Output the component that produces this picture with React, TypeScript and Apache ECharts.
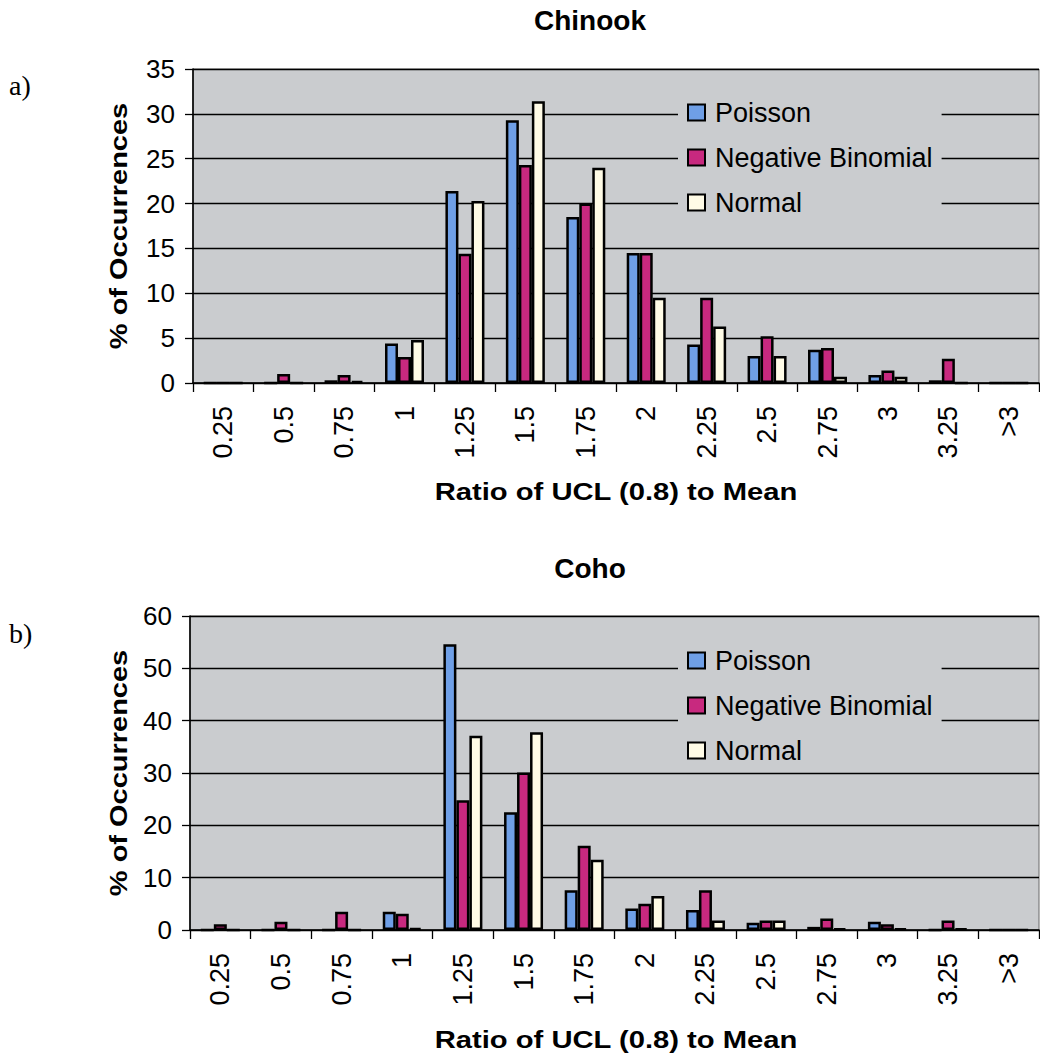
import React, { useEffect, useRef } from "react";
import * as echarts from "echarts";

// Ratio classes on the x axis (shared by both panels)
const categories = ["0.25", "0.5", "0.75", "1", "1.25", "1.5", "1.75", "2", "2.25", "2.5", "2.75", "3", "3.25", ">3"];

const seriesNames = ["Poisson", "Negative Binomial", "Normal"];

// Panel a) Chinook, % of occurrences
const chinookPoisson = [0, 0, 0.3, 4.4, 21.4, 29.3, 18.5, 14.5, 4.3, 3.0, 3.7, 0.9, 0.3, 0];
const chinookNegBin = [0, 1.0, 0.9, 2.9, 14.4, 24.3, 20.0, 14.5, 9.5, 5.2, 3.9, 1.4, 2.7, 0];
const chinookNormal = [0, 0, 0.25, 4.8, 20.3, 31.4, 24.0, 9.5, 6.3, 3.0, 0.7, 0.7, 0, 0];

// Panel b) Coho, % of occurrences
const cohoPoisson = [0, 0, 0, 3.5, 54.6, 22.5, 7.6, 4.1, 3.8, 1.4, 0.6, 1.6, 0, 0];
const cohoNegBin = [1.1, 1.6, 3.5, 3.1, 24.8, 30.1, 16.1, 5.0, 7.6, 1.8, 2.2, 1.1, 1.8, 0];
const cohoNormal = [0, 0, 0, 0.4, 37.1, 37.8, 13.4, 6.5, 1.8, 1.8, 0.3, 0.3, 0.3, 0];

// y axis ticks per panel
const chinookTicks = { max: 35, interval: 5 };
const cohoTicks = { max: 60, interval: 10 };

const panelTitles = ["Chinook", "Coho"];
const panelLetters = ["a)", "b)"];
const xAxisTitle = "Ratio of UCL (0.8) to Mean";
const yAxisTitle = "% of Occurrences";

const SANS = "'Liberation Sans', Arial, Helvetica, sans-serif";
const SERIF = "'Liberation Serif', 'Times New Roman', serif";
const PLOT_BG = "#cacccf";
const COLORS = ["#6f9fe6", "#c8297f", "#fffbe6"];

function buildOption() {
  const panels = [
    { data: [chinookPoisson, chinookNegBin, chinookNormal], ticks: chinookTicks, grid: { left: 193, top: 69, width: 846, height: 314 } },
    { data: [cohoPoisson, cohoNegBin, cohoNormal], ticks: cohoTicks, grid: { left: 190, top: 616, width: 849, height: 314 } },
  ];

  const grids = panels.map((p) => ({
    ...p.grid,
    show: true,
    backgroundColor: PLOT_BG,
    borderColor: "#6b6b6b",
    borderWidth: 1,
    containLabel: false,
  }));

  const xAxes = panels.map((_, i) => ({
    type: "category",
    gridIndex: i,
    data: categories,
    boundaryGap: true,
    axisLine: { show: true, onZero: false, lineStyle: { color: "#000", width: 1.6 } },
    axisTick: { show: true, length: 9, interval: 0, alignWithLabel: false, lineStyle: { color: "#000", width: 1.3 } },
    axisLabel: { interval: 0, rotate: 90, margin: 23, fontSize: 27, color: "#000", fontFamily: SANS },
    splitLine: { show: false },
  }));

  const yAxes = panels.map((p, i) => ({
    type: "value",
    gridIndex: i,
    min: 0,
    max: p.ticks.max,
    interval: p.ticks.interval,
    axisLine: { show: true, lineStyle: { color: "#000", width: 1.6 } },
    axisTick: { show: true, length: 8, lineStyle: { color: "#000", width: 1.3 } },
    axisLabel: { margin: 18, fontSize: 26, color: "#000", fontFamily: SANS },
    splitLine: { show: true, lineStyle: { color: "#000", width: 1.4 } },
  }));

  const series: any[] = [];
  panels.forEach((p, i) => {
    seriesNames.forEach((name, k) => {
      series.push({
        type: "bar",
        name,
        xAxisIndex: i,
        yAxisIndex: i,
        data: p.data[k],
        barWidth: 13,
        barGap: "0%",
        itemStyle: { color: COLORS[k], borderColor: "#000", borderWidth: 2.5 },
      });
    });
  });

  const legends = [93, 641].map((top) => ({
    orient: "vertical",
    left: 678,
    top,
    data: seriesNames,
    icon: "rect",
    itemWidth: 17,
    itemHeight: 16,
    itemGap: 18,
    selectedMode: false,
    backgroundColor: PLOT_BG,
    padding: [6, 9, 6, 9],
    textStyle: { fontSize: 27, color: "#000", fontFamily: SANS, padding: [0, 0, 0, 5] },
  }));

  const graphic: any[] = [];
  const panelMid = [226, 773];
  const titleY = [20, 568];
  const xNameY = [492, 1040];
  const letterY = [85, 633];
  [0, 1].forEach((i) => {
    graphic.push({
      type: "text",
      x: 590,
      y: titleY[i],
      style: { text: panelTitles[i], font: `bold 28px ${SANS}`, fill: "#000", textAlign: "center", textVerticalAlign: "middle" },
    });
    graphic.push({
      type: "text",
      x: 616,
      y: xNameY[i],
      scaleX: 1.27,
      style: { text: xAxisTitle, font: `bold 23px ${SANS}`, fill: "#000", textAlign: "center", textVerticalAlign: "middle" },
    });
    graphic.push({
      type: "text",
      x: 119,
      y: panelMid[i],
      rotation: Math.PI / 2,
      scaleX: 1.26,
      style: { text: yAxisTitle, font: `bold 23px ${SANS}`, fill: "#000", textAlign: "center", textVerticalAlign: "middle" },
    });
    graphic.push({
      type: "text",
      x: 9,
      y: letterY[i],
      style: { text: panelLetters[i], font: `28px ${SERIF}`, fill: "#000", textAlign: "left", textVerticalAlign: "middle" },
    });
  });

  return {
    animation: false,
    backgroundColor: "#fff",
    grid: grids,
    xAxis: xAxes,
    yAxis: yAxes,
    legend: legends,
    series,
    graphic,
  };
}

export default function App() {
  const ref = useRef<HTMLDivElement>(null);
  useEffect(() => {
    if (!ref.current) return;
    const chart = echarts.init(ref.current, null, { renderer: "svg" });
    chart.setOption(buildOption() as any);
    return () => chart.dispose();
  }, []);
  return (
    <div
      ref={ref}
      style={{ position: "absolute", left: 0, top: 0, width: 1040, height: 1056, background: "#fff" }}
    />
  );
}
